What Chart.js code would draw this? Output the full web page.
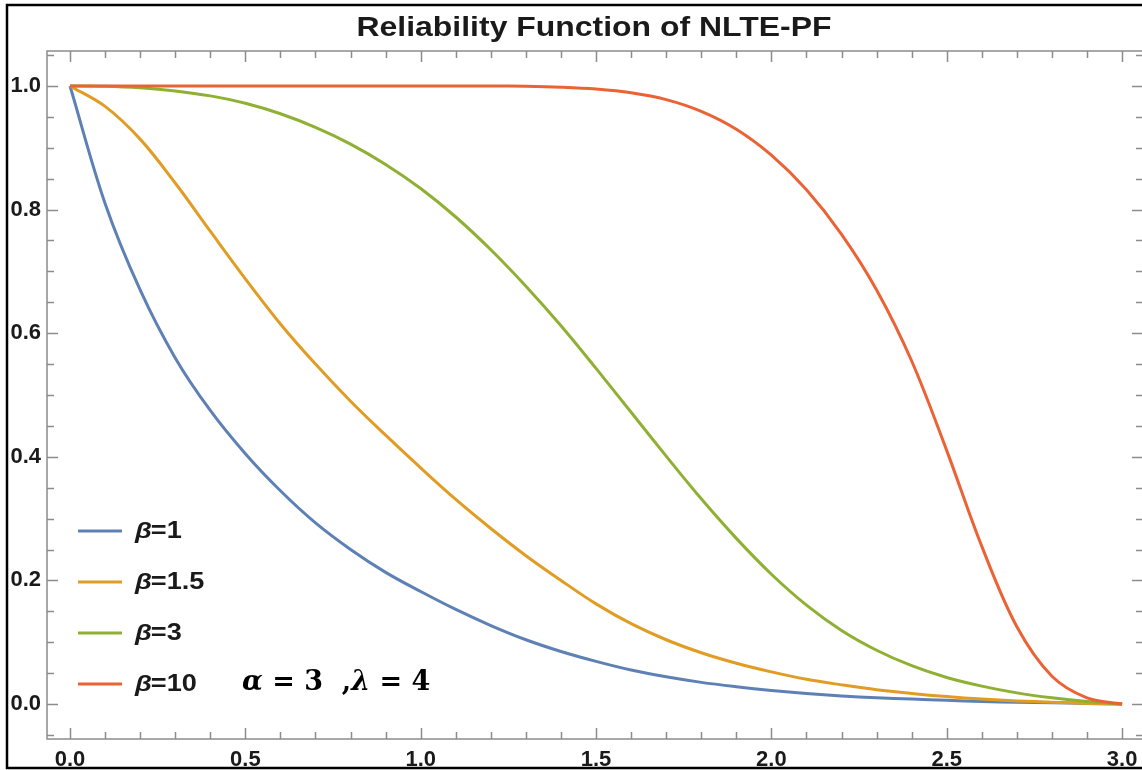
<!DOCTYPE html>
<html>
<head>
<meta charset="utf-8">
<script src="https://cdn.jsdelivr.net/npm/chart.js@4.4.1/dist/chart.umd.min.js"></script>
<style>
  html, body { margin: 0; padding: 0; background: #fff; overflow: hidden; }
  #wrap { width: 1142px; height: 770px; overflow: hidden; }
</style>
</head>
<body>
<div id="wrap"><canvas id="graph" width="1150" height="770"></canvas></div>
<script>
// x grid of the curves
const xs = [0.0, 0.1, 0.2, 0.3, 0.4, 0.5, 0.6, 0.7, 0.8, 0.9, 1.0,
  1.1, 1.2, 1.3, 1.4, 1.5, 1.6, 1.7, 1.8, 1.9, 2.0,
  2.1, 2.2, 2.3, 2.4, 2.5, 2.6, 2.7, 2.8, 2.9, 3.0];

const beta1 = [1.000, 0.810, 0.670, 0.560, 0.475, 0.405, 0.345, 0.293, 0.250, 0.213, 0.182,
  0.153, 0.127, 0.104, 0.085, 0.069, 0.055, 0.044, 0.035, 0.028, 0.022,
  0.017, 0.013, 0.010, 0.008, 0.006, 0.004, 0.003, 0.002, 0.001, 0.000];
const beta15 = [1.000, 0.967, 0.914, 0.843, 0.765, 0.688, 0.615, 0.550, 0.490, 0.435, 0.382,
  0.331, 0.284, 0.240, 0.200, 0.162, 0.130, 0.104, 0.083, 0.066, 0.052,
  0.040, 0.031, 0.023, 0.017, 0.012, 0.008, 0.005, 0.003, 0.001, 0.000];
const beta3 = [1.000, 0.9995, 0.997, 0.992, 0.984, 0.972, 0.955, 0.933, 0.906, 0.873, 0.834,
  0.788, 0.735, 0.676, 0.612, 0.543, 0.472, 0.401, 0.332, 0.268, 0.210,
  0.160, 0.119, 0.087, 0.062, 0.043, 0.029, 0.018, 0.010, 0.004, 0.000];
const beta10 = [1.000, 1.000, 1.000, 1.000, 1.000, 1.000, 1.000, 1.000, 1.000, 1.000, 1.000,
  1.000, 1.000, 0.9995, 0.998, 0.995, 0.989, 0.978, 0.959, 0.930, 0.888,
  0.832, 0.760, 0.670, 0.555, 0.410, 0.255, 0.125, 0.045, 0.010, 0.000];

const seriesNames = ['β=1', 'β=1.5', 'β=3', 'β=10'];
const seriesColors = ['#5e81b5', '#e19c24', '#8fb032', '#eb6235'];

const xMajor = [0, 0.5, 1, 1.5, 2, 2.5, 3];
const xMinor = [0.1, 0.2, 0.3, 0.4, 0.6, 0.7, 0.8, 0.9, 1.1, 1.2, 1.3, 1.4, 1.6, 1.7, 1.8, 1.9,
  2.1, 2.2, 2.3, 2.4, 2.6, 2.7, 2.8, 2.9];
const yMajor = [0, 0.2, 0.4, 0.6, 0.8, 1.0];
const yMinor = [-0.05, 0.05, 0.1, 0.15, 0.25, 0.3, 0.35, 0.45, 0.5, 0.55, 0.65, 0.7, 0.75,
  0.85, 0.9, 0.95, 1.05];

const titleText = 'Reliability Function of NLTE-PF';

const allSeries = [beta1, beta15, beta3, beta10];

const datasets = allSeries.map((vals, i) => ({
  label: seriesNames[i],
  data: xs.map((x, k) => ({ x: x, y: vals[k] })),
  borderColor: seriesColors[i],
  borderWidth: 3,
  pointRadius: 0,
  fill: false,
  tension: 0.35,
  order: allSeries.length - i
}));

const labelFont = { family: 'Liberation Sans', size: 22, weight: 'bold' };

// text squeezed wide like the exported picture
function wideText(ctx, text, x, y, stretch) {
  ctx.save();
  ctx.translate(x, y);
  ctx.scale(stretch, 1);
  ctx.fillText(text, 0, 0);
  ctx.restore();
  return ctx.measureText(text).width * stretch;
}

// frame, inward ticks, legend, note and title, mathematica look
const decor = {
  id: 'decor',
  beforeDatasetsDraw(chart) {
    const ctx = chart.ctx;
    const a = chart.chartArea;
    const sx = chart.scales.x, sy = chart.scales.y;
    ctx.save();
    ctx.strokeStyle = '#8c8c8c';
    ctx.lineWidth = 1.5;
    ctx.strokeRect(a.left, a.top, a.right - a.left, a.bottom - a.top);
    ctx.beginPath();
    const tickX = (v, len) => {
      const p = Math.round(sx.getPixelForValue(v)) + 0.5;
      ctx.moveTo(p, a.bottom); ctx.lineTo(p, a.bottom - len);
      ctx.moveTo(p, a.top); ctx.lineTo(p, a.top + len);
    };
    const tickY = (v, len) => {
      const p = Math.round(sy.getPixelForValue(v)) + 0.5;
      ctx.moveTo(a.left, p); ctx.lineTo(a.left + len, p);
      ctx.moveTo(a.right, p); ctx.lineTo(a.right - len, p);
    };
    xMajor.forEach(v => tickX(v, 11));
    xMinor.forEach(v => tickX(v, 7));
    yMajor.forEach(v => tickY(v, 11));
    yMinor.forEach(v => tickY(v, 7));
    ctx.stroke();
    ctx.restore();
  },
  afterDraw(chart) {
    const ctx = chart.ctx;
    ctx.save();
    // title
    ctx.fillStyle = '#1a1a1a';
    ctx.font = 'bold 28px "Liberation Sans"';
    ctx.textAlign = 'left';
    ctx.textBaseline = 'middle';
    const tw = ctx.measureText(titleText).width;
    const st = 475 / tw;
    wideText(ctx, titleText, 594 - 475 / 2, 28, st);

    // legend
    seriesNames.forEach((name, i) => {
      const y = 531 + i * 51;
      ctx.strokeStyle = seriesColors[i];
      ctx.lineWidth = 3;
      ctx.beginPath();
      ctx.moveTo(78, y); ctx.lineTo(122, y);
      ctx.stroke();
      ctx.fillStyle = '#1a1a1a';
      ctx.font = 'italic bold 23px "Liberation Sans"';
      let x = 135 + wideText(ctx, 'β', 135, y + 1, 1.18) - 1;
      ctx.font = 'bold 23px "Liberation Sans"';
      wideText(ctx, name.slice(1), x, y + 1, 1.18);
    });

    // parameters note
    const parts = [
      ['α', 'italic bold 27px "DejaVu Serif"'],
      [' = ', 'bold 27px "DejaVu Serif"'],
      ['3', 'bold 27px "DejaVu Serif"'],
      ['  ,', 'bold 27px "DejaVu Serif"'],
      ['λ', 'italic bold 27px "DejaVu Serif"'],
      [' = ', 'bold 27px "DejaVu Serif"'],
      ['4', 'bold 27px "DejaVu Serif"']
    ];
    let px = 242;
    ctx.fillStyle = '#000';
    parts.forEach(([t, f]) => {
      ctx.font = f;
      ctx.fillText(t, px, 683);
      px += ctx.measureText(t).width;
    });

    // outer border
    ctx.strokeStyle = '#000';
    ctx.lineWidth = 2.5;
    ctx.beginPath();
    ctx.moveTo(1150, 5); ctx.lineTo(7, 5); ctx.lineTo(7, 768); ctx.lineTo(1150, 768);
    ctx.stroke();
    ctx.restore();
  }
};

const config = {
  type: 'line',
  data: { datasets: datasets },
  options: {
    responsive: false,
    animation: false,
    layout: { padding: { top: 51, right: 7, left: 0, bottom: 0 } },
    plugins: { legend: { display: false }, tooltip: { enabled: false }, title: { display: false } },
    scales: {
      x: {
        type: 'linear',
        min: -0.0656,
        max: 3.0596,
        afterFit: s => { s.height = 31; },
        afterBuildTicks: s => { s.ticks = xMajor.map(v => ({ value: v })); },
        grid: { display: false, drawTicks: false },
        border: { display: false },
        ticks: { padding: 8, color: '#1a1a1a', font: labelFont, maxRotation: 0,
          callback: v => Number(v).toFixed(1) }
      },
      y: {
        type: 'linear',
        min: -0.0566,
        max: 1.0566,
        afterFit: s => { s.width = 47; },
        afterBuildTicks: s => { s.ticks = yMajor.map(v => ({ value: v })); },
        grid: { display: false, drawTicks: false },
        border: { display: false },
        ticks: { padding: 6, color: '#1a1a1a', font: labelFont,
          callback: v => Number(v).toFixed(1) }
      }
    }
  },
  plugins: [decor]
};

new Chart(document.getElementById('graph'), config);
</script>
</body>
</html>
